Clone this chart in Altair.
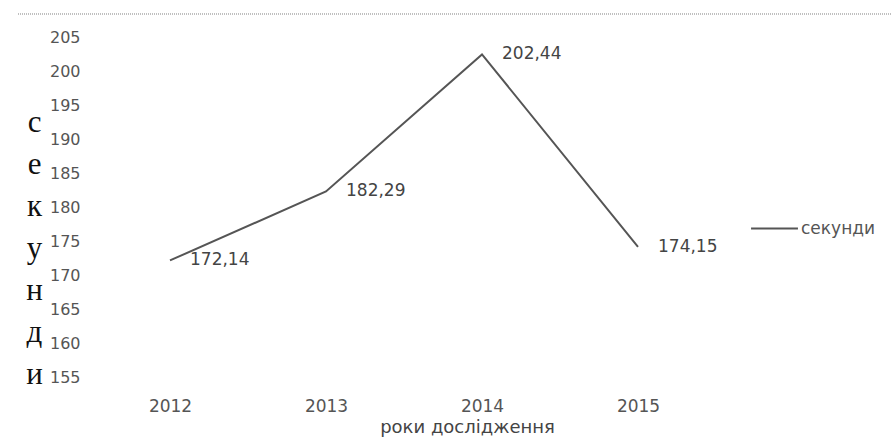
import altair as alt
import pandas as pd

years = ["2012", "2013", "2014", "2015"]
seconds = [172.14, 182.29, 202.44, 174.15]
labels = ["172,14", "182,29", "202,44", "174,15"]
series = ["секунди"] * 4
y_ticks = [155, 160, 165, 170, 175, 180, 185, 190, 195, 200, 205]
y_title = ["с", "е", "к", "у", "н", "д", "и"]

df = pd.DataFrame({"year": years, "value": seconds, "label": labels, "series": series})

FONT = "DejaVu Sans"

x = alt.X("year:N", sort=years,
          scale=alt.Scale(type="point", padding=0.5),
          axis=alt.Axis(title="роки дослідження", labelAngle=0, domain=False, ticks=False,
                        grid=False, labelPadding=21, labelFontSize=17, labelColor="#555",
                        labelFont=FONT, titleFont=FONT, titleFontSize=18,
                        titleFontWeight="normal", titleColor="#444", titlePadding=4,
                        titleX=375))
y = alt.Y("value:Q", scale=alt.Scale(domain=[155, 205], zero=False, nice=False),
          axis=alt.Axis(values=y_ticks, title=y_title, titleAngle=0, domain=False, ticks=False,
                        grid=False, labelPadding=12, labelFontSize=16, labelColor="#555",
                        labelOverlap=False, labelFont=FONT,
                        titleFont="Liberation Serif", titleFontSize=31,
                        titleFontWeight="normal", titleColor="#111", titleLineHeight=42,
                        titleX=-58, titleY=70, titleBaseline="top", titleAlign="center"))

line = alt.Chart(df).mark_line(strokeWidth=2).encode(
    x=x, y=y,
    color=alt.Color("series:N", scale=alt.Scale(range=["#555555"]),
                    legend=alt.Legend(title=None, orient="none", legendX=658, legendY=167,
                                      symbolType="stroke", symbolSize=2200, symbolStrokeWidth=2,
                                      labelFont=FONT, labelFontSize=17, labelColor="#555",
                                      labelOffset=2))
)

text = alt.Chart(df).mark_text(align="left", baseline="middle", dx=20, fontSize=17,
                               font=FONT, color="#444").encode(
    x=x, y=y, text="label:N"
)

border = alt.Chart(df).mark_rule(color="#bbbbbb", strokeWidth=1, strokeDash=[1, 1]).encode(
    x=alt.value(-74), x2=alt.value(800), y=alt.value(-23)
)

chart = (border + line + text).properties(
    width=624, height=340,
    autosize=alt.AutoSizeParams(type="none"),
    padding={"left": 92, "top": 37, "right": 176, "bottom": 62},
).configure_view(stroke=None).configure_axis(labelOverlap=False)

chart.save("out.html", embed_options={"renderer": "svg", "actions": False})
